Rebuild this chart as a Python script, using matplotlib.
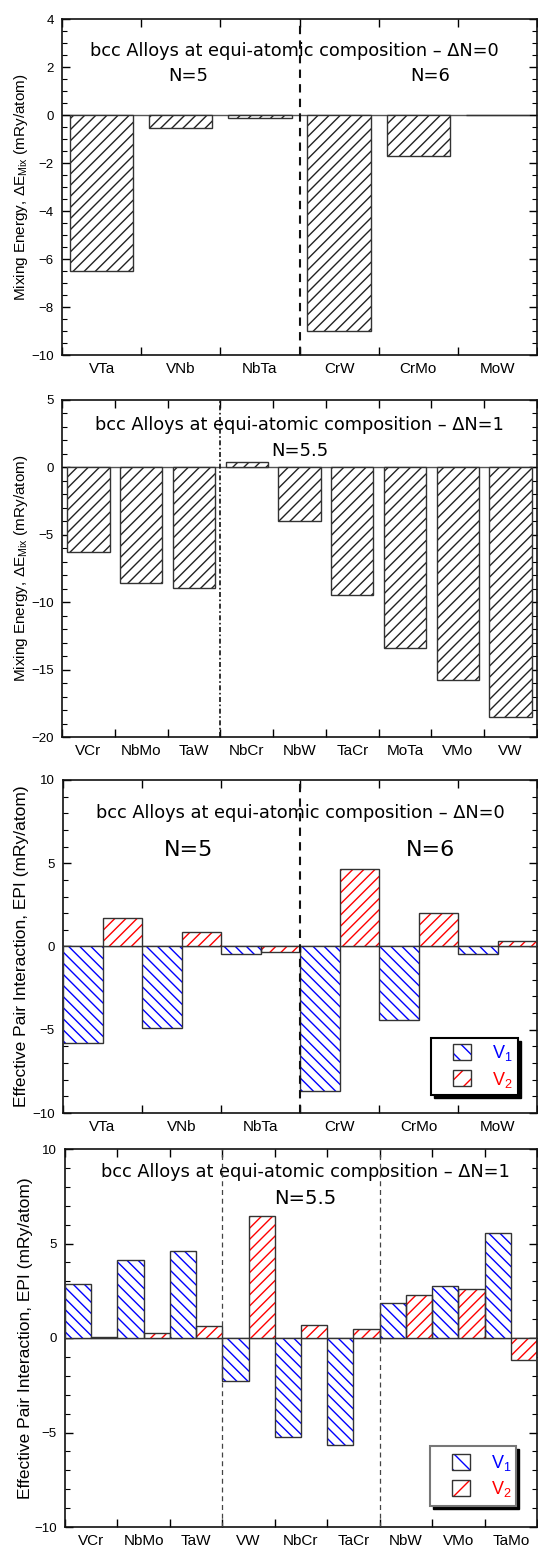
import matplotlib
matplotlib.use('Agg')
import matplotlib.pyplot as plt
import matplotlib.patches as mpatches
import matplotlib.transforms as mtransforms
from matplotlib.ticker import MultipleLocator, FixedLocator, NullFormatter
from matplotlib.legend_handler import HandlerTuple
import numpy as np

plt.rcParams['font.family'] = ['Liberation Sans', 'DejaVu Sans']
plt.rcParams['mathtext.fontset'] = 'custom'
plt.rcParams['mathtext.rm'] = 'Liberation Sans'
plt.rcParams['mathtext.it'] = 'Liberation Sans:italic'
plt.rcParams['hatch.linewidth'] = 1.0

# mixing energies (mRy/atom)
pairs_dn0 = ['VTa', 'VNb', 'NbTa', 'CrW', 'CrMo', 'MoW']
emix_dn0 = [-6.5, -0.55, -0.12, -9.0, -1.7, -0.02]

pairs_dn1 = ['VCr', 'NbMo', 'TaW', 'NbCr', 'NbW', 'TaCr', 'MoTa', 'VMo', 'VW']
emix_dn1 = [-6.25, -8.55, -8.98, 0.43, -3.95, -9.5, -13.38, -15.8, -18.5]

# effective pair interactions (mRy/atom)
epi_pairs_dn0 = ['VTa', 'VNb', 'NbTa', 'CrW', 'CrMo', 'MoW']
v1_dn0 = [-5.79, -4.89, -0.44, -8.68, -4.41, -0.48]
v2_dn0 = [1.74, 0.9, -0.36, 4.63, 2.02, 0.34]

epi_pairs_dn1 = ['VCr', 'NbMo', 'TaW', 'VW', 'NbCr', 'TaCr', 'NbW', 'VMo', 'TaMo']
v1_dn1 = [2.88, 4.12, 4.58, -2.25, -5.24, -5.66, 1.86, 2.73, 5.54]
v2_dn1 = [0.05, 0.28, 0.65, 6.44, 0.67, 0.5, 2.27, 2.6, -1.19]

EDGE = '#333333'
TITLE_FONT = 'DejaVu Sans'
HATCH_1 = '\\\\\\'
HATCH_2 = '///'

fig = plt.figure(figsize=(5.38, 15.5), dpi=100)
W, H = 538.0, 1550.0


def make_ax(left, right, top, bottom):
    return fig.add_axes([left / W, 1 - bottom / H, (right - left) / W, (bottom - top) / H])


def style_ax(ax, labels, ymin, ymax, ymaj, ymin_step):
    n = len(labels)
    ax.set_xlim(0, n)
    ax.set_ylim(ymin, ymax)
    ax.xaxis.set_major_locator(FixedLocator(np.arange(0, n + 1)))
    ax.xaxis.set_major_formatter(NullFormatter())
    ax.xaxis.set_minor_locator(FixedLocator(np.arange(n) + 0.5))
    ax.set_xticklabels(labels, minor=True, fontsize=11)
    ax.tick_params(axis='x', which='minor', length=0, pad=5)
    ax.tick_params(axis='x', which='major', direction='in', length=6, width=1, top=True)
    ax.yaxis.set_major_locator(MultipleLocator(ymaj))
    ax.yaxis.set_minor_locator(MultipleLocator(ymin_step))
    ax.tick_params(axis='y', which='major', direction='in', length=6, width=1,
                   right=True, labelsize=9.5, pad=6)
    ax.tick_params(axis='y', which='minor', direction='in', length=3.5, width=0.8, right=True)
    for s in ax.spines.values():
        s.set_linewidth(1.2)
        s.set_color('#111111')
    ax.axhline(0, color='#555555', lw=1, zorder=1)


def legend_box(ax, x0, y0, w, h, edge):
    shadow = mpatches.Rectangle((x0, y0), w, h, transform=mtransforms.offset_copy(
        ax.transAxes, fig=fig, x=3, y=-3, units='dots'), facecolor='black',
        edgecolor='black', zorder=8, clip_on=False)
    box = mpatches.Rectangle((x0, y0), w, h, transform=ax.transAxes, facecolor='white',
                             edgecolor=edge, lw=1.5, zorder=9, clip_on=False)
    ax.add_patch(shadow)
    ax.add_patch(box)
    h1 = (mpatches.Patch(facecolor='white', edgecolor='blue', hatch='\\\\', lw=0),
          mpatches.Patch(facecolor='none', edgecolor=EDGE, lw=1))
    h2 = (mpatches.Patch(facecolor='white', edgecolor='red', hatch='//', lw=0),
          mpatches.Patch(facecolor='none', edgecolor=EDGE, lw=1))
    leg = ax.legend([h1, h2], ['V$_1$', 'V$_2$'], handler_map={tuple: HandlerTuple(ndivide=1)},
                    loc='center', bbox_to_anchor=(x0 + w * 0.6, y0 + h / 2),
                    frameon=False, fontsize=13, handlelength=1.0, handleheight=1.0,
                    handletextpad=1.2, labelspacing=0.35)
    leg.set_zorder(10)
    leg.get_texts()[0].set_color('blue')
    leg.get_texts()[1].set_color('red')


# ---- panel 1: mixing energy, dN=0
ax1 = make_ax(62, 537, 19, 355)
x = np.arange(len(pairs_dn0)) + 0.5
ax1.bar(x, emix_dn0, width=0.8, color='white', edgecolor='#222222', hatch=HATCH_2, lw=0, zorder=2)
ax1.bar(x, emix_dn0, width=0.8, color='none', edgecolor=EDGE, lw=1, zorder=3)
style_ax(ax1, pairs_dn0, -10, 4, 2, 0.5)
ax1.axvline(3, color='#111111', ls=(0, (4, 3)), lw=1.5, zorder=4)
ax1.text(0.49, 0.905, 'bcc Alloys at equi-atomic composition – ΔN=0', transform=ax1.transAxes,
         ha='center', va='center', fontsize=12.8, family=TITLE_FONT)
ax1.text(0.265, 0.83, 'N=5', transform=ax1.transAxes, ha='center', va='center',
         fontsize=13, family=TITLE_FONT)
ax1.text(0.775, 0.83, 'N=6', transform=ax1.transAxes, ha='center', va='center',
         fontsize=13, family=TITLE_FONT)
ax1.set_ylabel(r'Mixing Energy, $\Delta$E$_{\mathrm{Mix}}$ (mRy/atom)', fontsize=11)
ax1.yaxis.set_label_coords(-0.068, 0.5)

# ---- panel 2: mixing energy, dN=1
ax2 = make_ax(62, 537, 400, 737)
x = np.arange(len(pairs_dn1)) + 0.5
ax2.bar(x, emix_dn1, width=0.8, color='white', edgecolor='#222222', hatch=HATCH_2, lw=0, zorder=2)
ax2.bar(x, emix_dn1, width=0.8, color='none', edgecolor=EDGE, lw=1, zorder=3)
style_ax(ax2, pairs_dn1, -20, 5, 5, 1)
ax2.axvline(3, color='#111111', ls=(0, (3, 1.5, 1, 1.5)), lw=1.2, zorder=4)
ax2.text(0.5, 0.925, 'bcc Alloys at equi-atomic composition – ΔN=1', transform=ax2.transAxes,
         ha='center', va='center', fontsize=12.8, family=TITLE_FONT)
ax2.text(0.5, 0.85, 'N=5.5', transform=ax2.transAxes, ha='center', va='center',
         fontsize=13, family=TITLE_FONT)
ax2.set_ylabel(r'Mixing Energy, $\Delta$E$_{\mathrm{Mix}}$ (mRy/atom)', fontsize=11)
ax2.yaxis.set_label_coords(-0.068, 0.5)

# ---- panel 3: EPI, dN=0
ax3 = make_ax(63, 537, 780, 1113)
x = np.arange(len(epi_pairs_dn0))
ax3.bar(x, v1_dn0, width=0.5, align='edge', color='white', edgecolor='blue', hatch=HATCH_1, lw=0, zorder=2)
ax3.bar(x + 0.5, v2_dn0, width=0.5, align='edge', color='white', edgecolor='red', hatch=HATCH_2, lw=0, zorder=2)
ax3.bar(x, v1_dn0, width=0.5, align='edge', color='none', edgecolor=EDGE, lw=1, zorder=3)
ax3.bar(x + 0.5, v2_dn0, width=0.5, align='edge', color='none', edgecolor=EDGE, lw=1, zorder=3)
style_ax(ax3, epi_pairs_dn0, -10, 10, 5, 1)
ax3.axvline(3, color='#111111', ls=(0, (4, 3)), lw=1.5, zorder=4)
ax3.text(0.5, 0.9, 'bcc Alloys at equi-atomic composition – ΔN=0', transform=ax3.transAxes,
         ha='center', va='center', fontsize=12.8, family=TITLE_FONT)
ax3.text(0.265, 0.79, 'N=5', transform=ax3.transAxes, ha='center', va='center',
         fontsize=16, family=TITLE_FONT)
ax3.text(0.775, 0.79, 'N=6', transform=ax3.transAxes, ha='center', va='center',
         fontsize=16, family=TITLE_FONT)
ax3.set_ylabel('Effective Pair Interaction, EPI (mRy/atom)', fontsize=12.5)
ax3.yaxis.set_label_coords(-0.072, 0.5)
legend_box(ax3, 0.776, 0.055, 0.183, 0.17, 'black')

# ---- panel 4: EPI, dN=1
ax4 = make_ax(65, 537, 1149, 1527)
x = np.arange(len(epi_pairs_dn1))
ax4.bar(x, v1_dn1, width=0.5, align='edge', color='white', edgecolor='blue', hatch=HATCH_1, lw=0, zorder=2)
ax4.bar(x + 0.5, v2_dn1, width=0.5, align='edge', color='white', edgecolor='red', hatch=HATCH_2, lw=0, zorder=2)
ax4.bar(x, v1_dn1, width=0.5, align='edge', color='none', edgecolor=EDGE, lw=1, zorder=3)
ax4.bar(x + 0.5, v2_dn1, width=0.5, align='edge', color='none', edgecolor=EDGE, lw=1, zorder=3)
style_ax(ax4, epi_pairs_dn1, -10, 10, 5, 1)
for xd in (3, 6):
    ax4.axvline(xd, color='#444444', ls=(0, (4, 3)), lw=0.9, zorder=4)
ax4.text(0.51, 0.94, 'bcc Alloys at equi-atomic composition – ΔN=1', transform=ax4.transAxes,
         ha='center', va='center', fontsize=12.8, family=TITLE_FONT)
ax4.text(0.51, 0.87, 'N=5.5', transform=ax4.transAxes, ha='center', va='center',
         fontsize=14, family=TITLE_FONT)
ax4.set_ylabel('Effective Pair Interaction, EPI (mRy/atom)', fontsize=12.5)
ax4.yaxis.set_label_coords(-0.068, 0.5)
legend_box(ax4, 0.773, 0.055, 0.183, 0.16, '#777777')

fig.savefig('out.png', dpi=100)
